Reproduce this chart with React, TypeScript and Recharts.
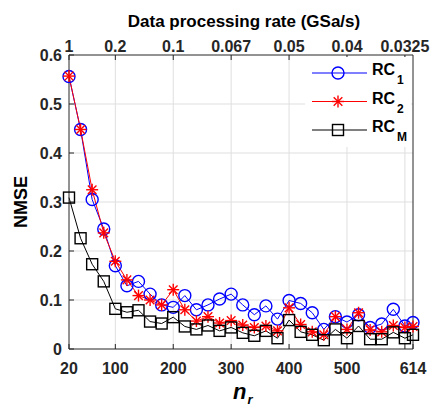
import { LineChart, Line, XAxis, YAxis, ReferenceLine } from 'recharts';

const nr = [20, 40, 60, 80, 100, 120, 140, 160, 180, 200, 220, 240, 260, 280, 300, 320, 340, 360, 380, 400, 420, 440, 460, 480, 500, 520, 540, 560, 580, 600, 614];
const rc1 = [0.556, 0.448, 0.305, 0.245, 0.17, 0.129, 0.138, 0.112, 0.09, 0.085, 0.109, 0.08, 0.09, 0.102, 0.112, 0.09, 0.07, 0.088, 0.061, 0.099, 0.093, 0.074, 0.04, 0.066, 0.055, 0.07, 0.044, 0.051, 0.081, 0.047, 0.054];
const rc2 = [0.557, 0.448, 0.325, 0.237, 0.179, 0.141, 0.109, 0.1, 0.09, 0.121, 0.08, 0.057, 0.066, 0.053, 0.058, 0.049, 0.044, 0.047, 0.037, 0.084, 0.05, 0.035, 0.029, 0.066, 0.04, 0.074, 0.039, 0.035, 0.048, 0.044, 0.046];
const rcM = [0.309, 0.226, 0.173, 0.138, 0.082, 0.075, 0.079, 0.056, 0.052, 0.065, 0.046, 0.04, 0.048, 0.037, 0.044, 0.033, 0.027, 0.037, 0.022, 0.059, 0.035, 0.029, 0.018, 0.04, 0.022, 0.047, 0.02, 0.02, 0.034, 0.022, 0.029];

const xDomain = [20, 614];
const bottomTicks = [20, 100, 200, 300, 400, 500, 600, 614];
const bottomLabels = ['20', '100', '200', '300', '400', '500', '', '614'];
const topTicks = [20, 100, 200, 300, 400, 500, 600];
const topLabels = ['1', '0.2', '0.1', '0.067', '0.05', '0.04', '0.0325'];
const gridX = [100, 200, 300, 400, 500, 600];
const gridY = [0.1, 0.2, 0.3, 0.4, 0.5];
const yTicks = [0, 0.1, 0.2, 0.3, 0.4, 0.5, 0.6];
const yLabels = ['0', '0.1', '0.2', '0.3', '0.4', '0.5', '0.6'];

const data = nr.map((n, i) => ({ n, rc1: rc1[i], rc2: rc2[i], rcM: rcM[i] }));

const FONT = "'Liberation Sans', Arial, Helvetica, sans-serif";
const AX = '#262626';
const GRID = '#dfdfdf';
const TICK = { fill: AX, fontSize: 16, fontWeight: 700, fontFamily: FONT };

const Circle = ({ cx, cy }: any) => (
  <circle cx={cx} cy={cy} r={6} fill="none" stroke="#0000ff" strokeWidth={1.4} />
);
const Star = ({ cx, cy }: any) => {
  const r = 6, d = 4.3;
  return (
    <g stroke="#ff0000" strokeWidth={1.4}>
      <line x1={cx - r} y1={cy} x2={cx + r} y2={cy} />
      <line x1={cx} y1={cy - r} x2={cx} y2={cy + r} />
      <line x1={cx - d} y1={cy - d} x2={cx + d} y2={cy + d} />
      <line x1={cx - d} y1={cy + d} x2={cx + d} y2={cy - d} />
    </g>
  );
};
const Square = ({ cx, cy }: any) => (
  <rect x={cx - 5.5} y={cy - 5.5} width={11} height={11} fill="none" stroke="#000" strokeWidth={1.4} />
);

const fmt = (ticks: number[], labels: string[]) => (v: number) => {
  const i = ticks.indexOf(v);
  return i >= 0 ? labels[i] : '';
};

function LegendBox() {
  const rows = [
    { color: '#0000ff', Mark: Circle, sub: '1' },
    { color: '#ff0000', Mark: Star, sub: '2' },
    { color: '#000000', Mark: Square, sub: 'M' },
  ];
  return (
    <svg width={106} height={90} style={{ position: 'absolute', left: 305, top: 57 }}>
      <rect width={106} height={90} fill="#fff" />
      {rows.map((r, i) => {
        const cy = 16 + i * 28.5;
        return (
          <g key={i}>
            <line x1={7} x2={62} y1={cy} y2={cy} stroke={r.color} strokeWidth={1} />
            <r.Mark cx={33} cy={cy} />
            <text x={67} y={cy + 2} fill="#000" fontFamily={FONT} fontWeight={700} fontSize={16}>
              RC
              <tspan dx={2} dy={9} fontSize={12}>{r.sub}</tspan>
            </text>
          </g>
        );
      })}
    </svg>
  );
}

export default function App() {
  return (
    <div style={{ position: 'absolute', left: 0, top: 0, width: 432, height: 408, background: '#fff' }}>
      <LineChart width={432} height={408} data={data} margin={{ top: 35, right: 14, bottom: 29, left: 29 }}>
        {gridX.map((t) => (
          <ReferenceLine key={`gx${t}`} xAxisId="b" yAxisId="l" x={t} stroke={GRID} strokeWidth={1} />
        ))}
        {gridY.map((t) => (
          <ReferenceLine key={`gy${t}`} xAxisId="b" yAxisId="l" y={t} stroke={GRID} strokeWidth={1} />
        ))}
        <XAxis
          xAxisId="b" dataKey="n" type="number" domain={xDomain} ticks={bottomTicks} interval={0}
          tickFormatter={fmt(bottomTicks, bottomLabels)} height={30} tickSize={-5} tickMargin={19}
          tick={TICK} axisLine={{ stroke: AX }} tickLine={{ stroke: AX }}
        />
        <XAxis
          xAxisId="t" orientation="top" dataKey="n" type="number" domain={xDomain} ticks={topTicks} interval={0}
          tickFormatter={fmt(topTicks, topLabels)} height={20} tickSize={-5} tickMargin={8}
          tick={TICK} axisLine={{ stroke: AX }} tickLine={{ stroke: AX }}
        />
        <YAxis
          yAxisId="l" type="number" domain={[0, 0.6]} ticks={yTicks} interval={0}
          tickFormatter={fmt(yTicks, yLabels)} width={40} tickSize={-5} tickMargin={12}
          tick={TICK} axisLine={{ stroke: AX }} tickLine={{ stroke: AX }}
        />
        <YAxis
          yAxisId="r" orientation="right" type="number" domain={[0, 0.6]} ticks={yTicks} interval={0}
          tickFormatter={() => ''} width={5} tickSize={-5} tickMargin={0}
          tick={TICK} axisLine={{ stroke: AX }} tickLine={{ stroke: AX }}
        />
        <Line xAxisId="b" yAxisId="l" type="linear" dataKey="rc1" stroke="#0000ff" strokeWidth={1}
          isAnimationActive={false} dot={(p: any) => <Circle key={`c${p.index}`} cx={p.cx} cy={p.cy} />} activeDot={false} />
        <Line xAxisId="b" yAxisId="l" type="linear" dataKey="rc2" stroke="#ff0000" strokeWidth={1}
          isAnimationActive={false} dot={(p: any) => <Star key={`s${p.index}`} cx={p.cx} cy={p.cy} />} activeDot={false} />
        <Line xAxisId="b" yAxisId="l" type="linear" dataKey="rcM" stroke="#000000" strokeWidth={1}
          isAnimationActive={false} dot={(p: any) => <Square key={`q${p.index}`} cx={p.cx} cy={p.cy} />} activeDot={false} />
      </LineChart>
      <svg width={432} height={408} style={{ position: 'absolute', left: 0, top: 0, pointerEvents: 'none' }}>
        <text x={244} y={27} textAnchor="middle" fill="#000" fontFamily={FONT} fontWeight={700} fontSize={17}>
          Data processing rate (GSa/s)
        </text>
        <text x={27} y={202} transform="rotate(-90 27 202)" textAnchor="middle" fill="#000"
          fontFamily={FONT} fontWeight={700} fontSize={18}>
          NMSE
        </text>
        <text x={233} y={399} fill="#000" fontFamily={FONT} fontWeight={700} fontStyle="italic" fontSize={22}>
          n
          <tspan dx={1} dy={5} fontSize={13}>r</tspan>
        </text>
      </svg>
      <LegendBox />
    </div>
  );
}
